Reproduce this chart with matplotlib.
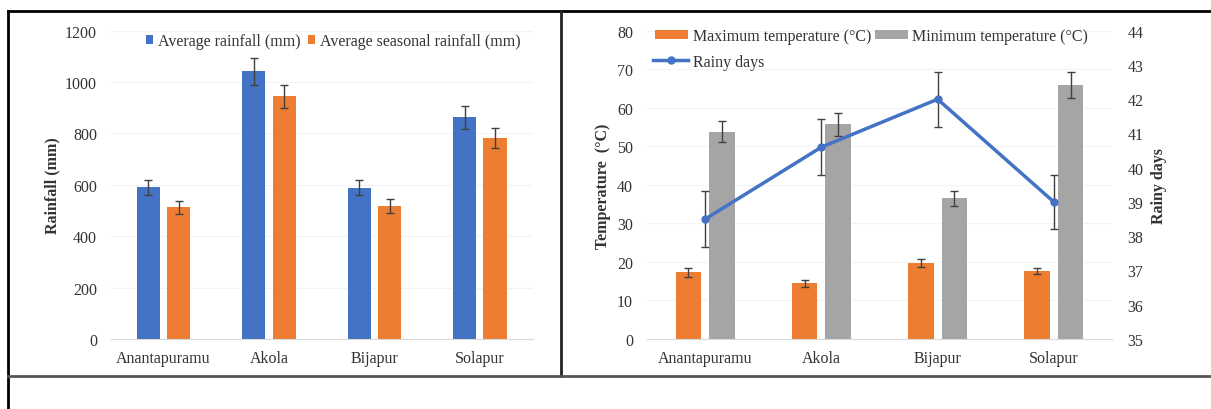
import matplotlib
matplotlib.use("Agg")
import matplotlib.pyplot as plt
import numpy as np
from matplotlib.lines import Line2D

plt.rcParams['font.family'] = ['Liberation Serif', 'DejaVu Serif']

sites = ["Anantapuramu", "Akola", "Bijapur", "Solapur"]
avg_rain = [590, 1042, 589, 863]
avg_rain_err = [30, 52, 30, 44]
seas_rain = [512, 944, 518, 784]
seas_rain_err = [26, 46, 27, 39]

max_temp = [17.3, 14.5, 19.7, 17.7]
max_temp_err = [1.1, 0.9, 1.0, 0.8]
min_temp = [53.8, 55.7, 36.5, 65.9]
min_temp_err = [2.7, 2.9, 2.0, 3.3]
rainy_days = [38.5, 40.6, 42.0, 39.0]
rainy_days_err = [0.82, 0.82, 0.8, 0.8]

BLUE = "#4472C4"
ORANGE = "#ED7D31"
GRAY = "#A5A5A5"
TXT = "#333333"
FS = 11.5

W, H = 1211, 410
fig = plt.figure(figsize=(W / 100, H / 100), dpi=100)

def fx(px):
    return px / W

def fy(py):
    return 1 - py / H

# frame lines
fig.add_artist(Line2D([fx(8), 1], [fy(12), fy(12)], color="black", lw=2))
fig.add_artist(Line2D([fx(8), fx(8)], [0, fy(12)], color="black", lw=2))
fig.add_artist(Line2D([fx(561), fx(561)], [fy(377), fy(12)], color="#222222", lw=2))
fig.add_artist(Line2D([fx(8), 1], [fy(377), fy(377)], color="#555555", lw=2))

x = np.arange(len(sites))
w = 0.22
gap = 0.068
off = (w + gap) / 2
err_kw = dict(ecolor="#404040", elinewidth=1, capsize=2.6, capthick=1)

def style(ax):
    for s in ax.spines.values():
        s.set_visible(False)
    ax.spines['bottom'].set_visible(True)
    ax.spines['bottom'].set_color("#d9d9d9")
    ax.tick_params(axis='both', length=0, colors=TXT, labelsize=FS)
    ax.set_xlim(-0.5, len(sites) - 0.5)
    ax.grid(axis='y', color="#f3f3f3", lw=0.8)
    ax.set_axisbelow(True)

# ---------------- left chart ----------------
ax1 = fig.add_axes([fx(110.8), fy(340), fx(421.7), (340 - 31.7) / H])
ax1.bar(x - off, avg_rain, w, yerr=avg_rain_err, color=BLUE, label="Average rainfall (mm)", error_kw=err_kw)
ax1.bar(x + off, seas_rain, w, yerr=seas_rain_err, color=ORANGE, label="Average seasonal rainfall (mm)", error_kw=err_kw)
ax1.set_ylim(0, 1200)
ax1.set_yticks(np.arange(0, 1201, 200))
ax1.set_xticks(x)
ax1.set_xticklabels(sites)
style(ax1)
ax1.tick_params(axis='y', pad=10)
ax1.tick_params(axis='x', pad=8)
ax1.set_ylabel("Rainfall (mm)", color=TXT, fontsize=FS, fontweight='bold')
ax1.yaxis.set_label_coords((52 - 110.8) / 421.7, 0.5)
ax1.yaxis.label.set_va('center')
ax1.legend(loc='center left', bbox_to_anchor=(fx(146), fy(42)), bbox_transform=fig.transFigure,
           ncol=2, frameon=False, fontsize=FS, handlelength=0.45, handleheight=0.45,
           handletextpad=0.3, columnspacing=0.45, labelcolor=TXT, borderaxespad=0, borderpad=0)

# ---------------- right chart ----------------
ax2 = fig.add_axes([fx(647), fy(340), fx(465), (340 - 31.7) / H])
ax2.bar(x - off, max_temp, w, yerr=max_temp_err, color=ORANGE, label="Maximum temperature (°C)", error_kw=err_kw)
ax2.bar(x + off, min_temp, w, yerr=min_temp_err, color=GRAY, label="Minimum temperature (°C)", error_kw=err_kw)
ax2.set_ylim(0, 80)
ax2.set_yticks(np.arange(0, 81, 10))
ax2.set_xticks(x)
ax2.set_xticklabels(sites)
style(ax2)
ax2.tick_params(axis='y', pad=10)
ax2.tick_params(axis='x', pad=8)
ax2.set_ylabel("Temperature  (°C)", color=TXT, fontsize=FS, fontweight='bold')
ax2.yaxis.set_label_coords((603 - 647) / 465, 0.5)
ax2.yaxis.label.set_va('center')

ax3 = ax2.twinx()
ax3.errorbar(x, rainy_days, yerr=rainy_days_err, color=BLUE, lw=2.5, marker='o', ms=5,
             ecolor="#404040", elinewidth=1, capsize=2.6, capthick=1, label="Rainy days", zorder=5)
ax3.set_ylim(35, 44)
ax3.set_yticks(np.arange(35, 45, 1))
for s in ax3.spines.values():
    s.set_visible(False)
ax3.tick_params(axis='y', length=0, colors=TXT, labelsize=FS, pad=11)
ax3.set_ylabel("Rainy days", color=TXT, fontsize=FS, fontweight='bold', rotation=90)
ax3.yaxis.set_label_coords((1159 - 647) / 465, 0.5)
ax3.yaxis.label.set_va('center')
ax3.yaxis.label.set_ha('center')

h1, l1 = ax2.get_legend_handles_labels()
h3 = [Line2D([0], [0], color=BLUE, lw=2.5, marker='o', ms=5)]
leg1 = ax3.legend(h1, l1, loc='center left', bbox_to_anchor=(fx(655), fy(37)), bbox_transform=fig.transFigure,
                  ncol=2, frameon=False, fontsize=FS, handlelength=2.05, handleheight=0.45,
                  handletextpad=0.3, columnspacing=0.25, labelcolor=TXT, borderaxespad=0, borderpad=0)
ax3.add_artist(leg1)
ax3.legend(h3, ["Rainy days"], loc='center left', bbox_to_anchor=(fx(653), fy(63)), bbox_transform=fig.transFigure,
           frameon=False, fontsize=FS, handlelength=2.2, handletextpad=0.3, labelcolor=TXT,
           borderaxespad=0, borderpad=0)

fig.savefig("out.png", dpi=100)
